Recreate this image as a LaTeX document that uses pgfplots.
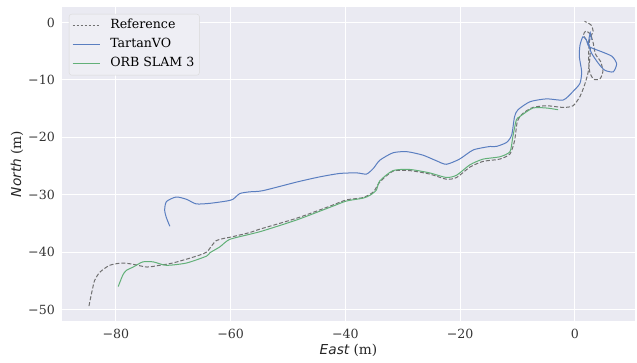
\documentclass[border=0pt]{standalone}
\usepackage{fontspec}
\setmainfont{DejaVu Serif}
\newfontfamily\dvsans{DejaVu Sans}
\usepackage{pgfplots}
\pgfplotsset{compat=1.18}
\definecolor{bgc}{HTML}{EAEAF2}
\definecolor{legbg}{HTML}{EEEEF4}
\definecolor{sbblue}{HTML}{5A7EC0}
\definecolor{sbgreen}{HTML}{62B078}
\definecolor{refgray}{HTML}{707070}
\begin{document}
\begin{tikzpicture}
\begin{axis}[
  name=ax,
  scale only axis, width=573bp, height=314bp,
  xmin=-89.4, xmax=10.5, ymin=-52, ymax=2.7,
  axis background/.style={fill=bgc},
  axis line style={draw=none},
  grid=major, major grid style={white, line width=1bp},
  tick style={draw=none},
  xtick={-80,-60,-40,-20,0},
  xticklabels={−80,−60,−40,−20,0},
  ytick={-50,-40,-30,-20,-10,0},
  yticklabels={−50,−40,−30,−20,−10,0},
  tick label style={font=\fontsize{12.6bp}{14bp}\selectfont, text=black!80},
  xticklabel style={anchor=north, inner sep=0pt, yshift=-7.5bp},
  yticklabel style={anchor=east, inner sep=0pt, xshift=-7bp},
  xlabel={{\dvsans\itshape East} (m)},
  ylabel={{\dvsans\itshape North} (m)},
  label style={font=\fontsize{13.7bp}{15bp}\selectfont, text=black!85},
  xlabel style={at={(axis description cs:0.5,-0.0924)}, anchor=center, inner sep=0pt},
  ylabel style={at={(axis description cs:-0.0785,0.5)}, anchor=center, inner sep=0pt},
  legend cell align=left,
  legend image code/.code={\draw[#1] (0bp,0bp) -- (27bp,0bp);},
  legend style={at={(axis description cs:0.0122,0.9777)}, anchor=north west,
    draw=black!15, fill=legbg, rounded corners=2.5bp,
    font=\fontsize{12.6bp}{14bp}\selectfont,
    inner xsep=3bp, inner ysep=3.5bp, row sep=3bp,
    nodes={inner sep=2bp, text height=9bp, text depth=3bp},
    /tikz/every odd column/.append style={column sep=8bp}},
]
\addlegendimage{draw=refgray, line width=1.1bp, dash pattern=on 2.5bp off 1.5bp}
\addlegendentry{Reference}
\addlegendimage{draw=sbblue, line width=1.1bp}
\addlegendentry{TartanVO}
\addlegendimage{draw=sbgreen, line width=1.1bp}
\addlegendentry{ORB SLAM 3}
\addplot[color=refgray, line width=1bp, dash pattern=on 4bp off 2bp, smooth, tension=0.4, forget plot] coordinates {
(-84.7,-49.4) (-84.5,-48.4) (-84.1,-46.5) (-83.7,-44.9) (-82.8,-43.5) (-81.1,-42.3)
(-79.0,-41.9) (-77.1,-42.1) (-74.6,-42.6) (-72.4,-42.3) (-70.1,-41.9) (-66.6,-40.9)
(-64.2,-40.0) (-62.5,-38.0) (-59.6,-37.3) (-56.7,-36.6) (-54.9,-36.0) (-48.5,-34.1)
(-42.7,-32.0) (-39.8,-30.9) (-36.9,-30.5) (-35.1,-29.5) (-34.0,-27.8) (-31.7,-25.9)
(-28.8,-25.8) (-25.3,-26.4) (-22.4,-27.3) (-20.6,-27.0) (-18.3,-25.2) (-16.0,-24.2)
(-13.1,-23.8) (-11.3,-22.9) (-10.5,-20.6) (-10.0,-17.2) (-9.0,-15.8) (-7.3,-14.8)
(-4.9,-14.5) (-2.0,-14.8) (-0.3,-14.5) (0.9,-12.9) (1.7,-10.9) (2.3,-8.8)
(2.6,-6.5) (2.7,-4.5) (2.0,-3.0) (1.5,-2.2) (1.9,-1.5) (2.7,-2.0) (3.2,-3.5)
(3.6,-5.5) (4.5,-6.8) (4.9,-8.5) (4.4,-9.8) (3.3,-9.9) (2.6,-8.6) (2.4,-6.0)
(2.6,-3.0) (3.2,-1.5) (2.8,-0.4) (1.7,0.2)
};
\addplot[color=sbblue, line width=1bp, smooth, tension=0.4, forget plot] coordinates {
(-70.6,-35.5) (-71.2,-34.0) (-71.5,-32.7) (-71.2,-31.2) (-69.5,-30.4) (-67.7,-30.8)
(-66.0,-31.6) (-63.6,-31.5) (-60.7,-31.1) (-59.6,-30.8) (-58.4,-29.8) (-56.7,-29.5)
(-54.4,-29.3) (-48.5,-27.8) (-44.5,-26.9) (-41.0,-26.3) (-38.0,-26.2) (-36.3,-26.4)
(-35.1,-25.4) (-34.0,-24.0) (-31.7,-22.7) (-29.3,-22.5) (-26.5,-23.1) (-24.1,-24.1)
(-22.4,-24.7) (-20.1,-23.8) (-17.7,-22.2) (-14.8,-21.6) (-13.7,-21.6) (-11.9,-20.9)
(-11.0,-19.6) (-10.5,-16.4) (-9.9,-15.2) (-7.8,-13.8) (-4.9,-13.3) (-2.0,-13.5)
(-0.3,-12.0) (0.9,-10.6) (1.2,-8.6) (0.8,-6.0) (0.9,-4.0) (1.4,-2.5) (2.0,-3.0)
(2.5,-4.2) (4.7,-5.1) (6.5,-5.9) (7.3,-7.2) (6.7,-8.6) (5.2,-8.3) (4.1,-7.1)
(2.9,-5.3) (2.4,-3.6) (2.7,-1.8) (2.9,-3.0)
};
\addplot[color=sbgreen, line width=1bp, smooth, tension=0.4, forget plot] coordinates {
(-79.6,-46.0) (-78.8,-44.0) (-78.2,-43.2) (-77.0,-42.6) (-75.3,-41.7) (-73.5,-41.7)
(-71.2,-42.3) (-67.7,-41.9) (-64.2,-40.7) (-63.6,-40.1) (-61.9,-39.1) (-60.2,-37.8)
(-56.7,-36.9) (-54.4,-36.3) (-48.5,-34.4) (-42.7,-32.2) (-39.8,-31.1) (-36.9,-30.6)
(-35.7,-30.1) (-34.6,-29.2) (-34.0,-27.6) (-31.7,-25.8) (-28.8,-25.6) (-25.3,-26.2)
(-22.4,-27.0) (-20.6,-26.6) (-18.3,-24.8) (-16.0,-23.8) (-13.1,-23.4) (-11.3,-22.5)
(-10.8,-19.9) (-10.2,-17.0) (-9.6,-16.4) (-7.3,-14.9) (-4.9,-14.9) (-2.9,-15.2)
};
\end{axis}
\path ([xshift=-62bp,yshift=-42bp]ax.south west) rectangle ([xshift=2bp,yshift=7bp]ax.north east);
\end{tikzpicture}
\end{document}
